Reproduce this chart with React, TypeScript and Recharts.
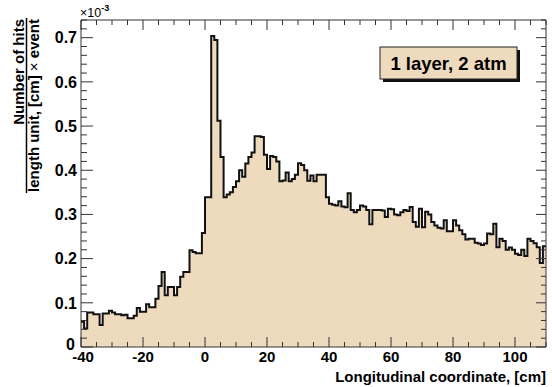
import React from 'react';
import { ComposedChart, Area, XAxis, YAxis } from 'recharts';

const X_MIN = -40;
const X_MAX = 110;
const Y_MAX = 0.74;

// hits per length unit per event, in units of 1e-3; 1 cm bins from -40 cm
const hits = [
  0.057, 0.042, 0.078, 0.078, 0.074, 0.074, 0.05, 0.076, 0.076, 0.082,
  0.078, 0.074, 0.074, 0.072, 0.073, 0.065, 0.065, 0.071, 0.088, 0.08,
  0.08, 0.097, 0.09, 0.09, 0.109, 0.138, 0.17, 0.117, 0.136, 0.136,
  0.117, 0.136, 0.159, 0.17, 0.17, 0.219, 0.215, 0.212, 0.212, 0.258,
  0.339, 0.339, 0.704, 0.695, 0.512, 0.43, 0.339, 0.345, 0.35, 0.362,
  0.375, 0.4, 0.385, 0.415, 0.43, 0.44, 0.477, 0.477, 0.475, 0.435,
  0.403, 0.432, 0.43, 0.42, 0.375, 0.377, 0.395, 0.375, 0.38, 0.39,
  0.416, 0.412, 0.4, 0.376, 0.388, 0.375, 0.39, 0.39, 0.39, 0.339,
  0.324, 0.322, 0.32, 0.33, 0.318, 0.316, 0.348, 0.31, 0.305, 0.31,
  0.32, 0.318, 0.31, 0.278, 0.31, 0.31, 0.31, 0.309, 0.294, 0.313,
  0.312, 0.3, 0.298, 0.305, 0.31, 0.308, 0.317, 0.283, 0.272, 0.313,
  0.271, 0.306, 0.3, 0.283, 0.275, 0.27, 0.268, 0.287, 0.262, 0.262,
  0.287, 0.275, 0.264, 0.255, 0.243, 0.245, 0.245, 0.236, 0.234, 0.231,
  0.234, 0.257, 0.255, 0.279, 0.226, 0.245, 0.24, 0.22, 0.225, 0.22,
  0.211, 0.208, 0.22, 0.206, 0.245, 0.24, 0.235, 0.226, 0.19, 0.228,
];

const xTicks = [
  -40, -35, -30, -25, -20, -15, -10, -5, 0, 5, 10, 15, 20, 25, 30, 35, 40, 45,
  50, 55, 60, 65, 70, 75, 80, 85, 90, 95, 100, 105, 110,
];
const yTicks = [
  0, 0.02, 0.04, 0.06, 0.08, 0.1, 0.12, 0.14, 0.16, 0.18, 0.2, 0.22, 0.24,
  0.26, 0.28, 0.3, 0.32, 0.34, 0.36, 0.38, 0.4, 0.42, 0.44, 0.46, 0.48, 0.5,
  0.52, 0.54, 0.56, 0.58, 0.6, 0.62, 0.64, 0.66, 0.68, 0.7, 0.72, 0.74,
];

const rows = [
  ...hits.map((v, i) => ({ x: X_MIN + i, v })),
  { x: X_MAX, v: hits[hits.length - 1] },
];

const FONT = '"Liberation Sans", Arial, Helvetica, sans-serif';
const AXIS = '#333';

const isMajor = (v: number, step: number) =>
  Math.abs(v / step - Math.round(v / step)) < 1e-6;

function BottomTick({ x, y, payload }: any) {
  const major = isMajor(payload.value, 20);
  const first = payload.value === X_MIN;
  return (
    <g>
      <line x1={x} x2={x} y1={y} y2={y - (major ? 10 : 5)} stroke={AXIS} />
      {major && (
        <text x={x + (first ? 2 : 0)} y={y + 15} textAnchor="middle" fontSize={15} fontWeight="bold" fontFamily={FONT} fill="#000">
          {payload.value}
        </text>
      )}
    </g>
  );
}

function TopTick({ x, y, payload }: any) {
  const major = isMajor(payload.value, 20);
  return <line x1={x} x2={x} y1={y} y2={y + (major ? 10 : 5)} stroke={AXIS} />;
}

function LeftTick({ x, y, payload }: any) {
  const major = isMajor(payload.value, 0.1);
  const zero = payload.value === 0;
  const label = zero ? '0' : payload.value.toFixed(1);
  return (
    <g>
      <line x1={x} x2={x + (major ? 12 : 6)} y1={y} y2={y} stroke={AXIS} />
      {major && (
        <text x={x - (zero ? 6 : 4)} y={y - (zero ? 3 : 0)} dy="0.36em" textAnchor="end" fontSize={16} fontWeight="bold" fontFamily={FONT} fill="#000">
          {label}
        </text>
      )}
    </g>
  );
}

function RightTick({ x, y, payload }: any) {
  const major = isMajor(payload.value, 0.1);
  return <line x1={x} x2={x - (major ? 10 : 5)} y1={y} y2={y} stroke={AXIS} />;
}

export default function App() {
  return (
    <div style={{ position: 'absolute', left: 0, top: 0, width: 552, height: 387, background: '#fff' }}>
      <ComposedChart width={552} height={387} data={rows} margin={{ top: 0, right: 0, bottom: 0, left: 0 }}>
        <Area
          xAxisId="b"
          yAxisId="l"
          dataKey="v"
          type="stepAfter"
          fill="#EEDBBE"
          fillOpacity={1}
          stroke="#111"
          strokeWidth={2}
          dot={false}
          activeDot={false}
          isAnimationActive={false}
        />
        <XAxis
          xAxisId="b"
          dataKey="x"
          type="number"
          domain={[X_MIN, X_MAX]}
          ticks={xTicks}
          interval={0}
          height={40}
          tickSize={0}
          tickMargin={0}
          tick={BottomTick}
          axisLine={{ stroke: AXIS }}
          allowDataOverflow
        />
        <XAxis
          xAxisId="t"
          orientation="top"
          dataKey="x"
          type="number"
          domain={[X_MIN, X_MAX]}
          ticks={xTicks}
          interval={0}
          height={20}
          tickSize={0}
          tickMargin={0}
          tick={TopTick}
          axisLine={{ stroke: AXIS }}
          allowDataOverflow
        />
        <YAxis
          yAxisId="l"
          type="number"
          domain={[0, Y_MAX]}
          ticks={yTicks}
          interval={0}
          width={81}
          tickSize={0}
          tickMargin={0}
          tick={LeftTick}
          axisLine={{ stroke: AXIS }}
          allowDataOverflow
        />
        <YAxis
          yAxisId="r"
          orientation="right"
          type="number"
          domain={[0, Y_MAX]}
          ticks={yTicks}
          interval={0}
          width={6}
          tickSize={0}
          tickMargin={0}
          tick={RightTick}
          axisLine={{ stroke: AXIS }}
          allowDataOverflow
        />
      </ComposedChart>
      <svg width={552} height={387} style={{ position: 'absolute', left: 0, top: 0, pointerEvents: 'none' }}>
        {/* y title as a fraction, aligned to the top of the axis */}
        <text
          x={24}
          y={19}
          transform="rotate(-90 24 19)"
          textAnchor="end"
          fontSize={15}
          fontWeight="bold"
          fontFamily={FONT}
        >
          Number of hits
        </text>
        <line x1={26.5} x2={26.5} y1={18} y2={193} stroke="#000" strokeWidth={1.5} />
        <text
          x={39}
          y={19}
          transform="rotate(-90 39 19)"
          textAnchor="end"
          fontSize={15}
          fontWeight="bold"
          fontFamily={FONT}
        >
          length unit, [cm] <tspan fontWeight="normal">×</tspan> event
        </text>
        {/* exponent */}
        <text x={80} y={17} fontSize={12.5} fontFamily={FONT}>
          ×10
          <tspan dy={-6} fontSize={9} fontWeight="bold">-3</tspan>
        </text>
        {/* x title */}
        <text x={546} y={382} textAnchor="end" fontSize={15} fontWeight="bold" fontFamily={FONT}>
          Longitudinal coordinate, [cm]
        </text>
        {/* legend box */}
        <rect x={383} y={50} width={137} height={32} fill="#111" />
        <rect x={380} y={47} width={137} height={32} fill="#EEDBBE" stroke="#222" strokeWidth={1} />
        <text x={448.5} y={69.5} textAnchor="middle" fontSize={18.5} fontWeight="bold" fontFamily={FONT}>
          1 layer, 2 atm
        </text>
      </svg>
    </div>
  );
}
